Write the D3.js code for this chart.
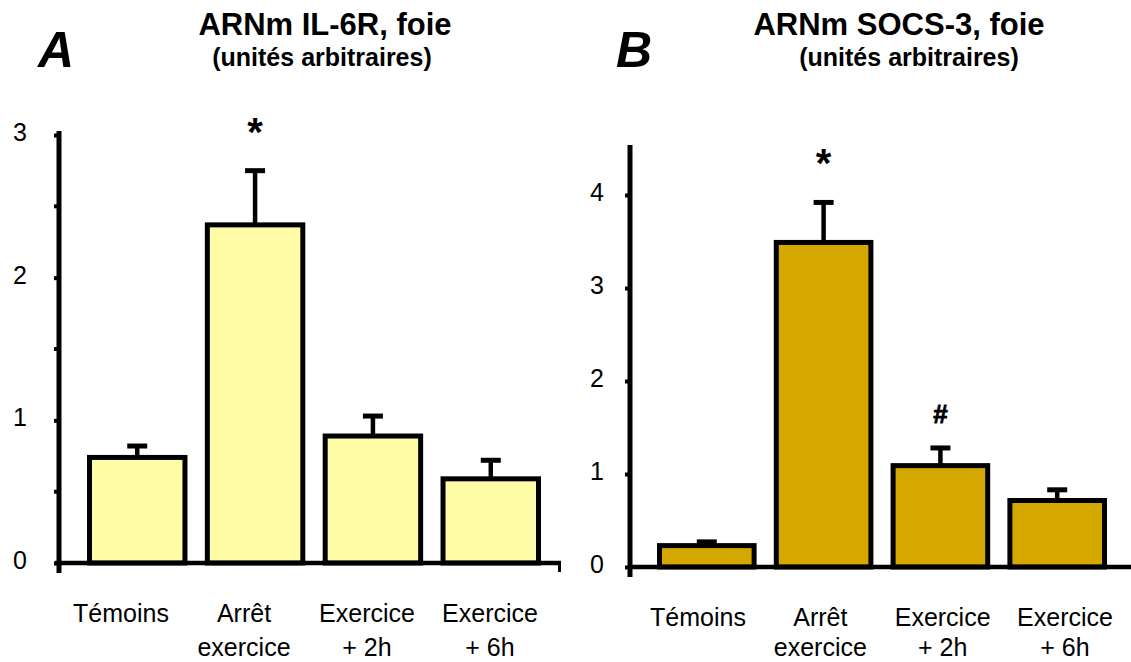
<!DOCTYPE html>
<html><head><meta charset="utf-8">
<script src="https://cdn.jsdelivr.net/npm/d3@7"></script>
<style>
html,body{margin:0;padding:0;background:#fff;}
svg{display:block;font-family:"Liberation Sans",Arial,sans-serif;}
</style></head>
<body><svg id="chart" width="1131" height="662"></svg>
<script>
// ---- data ----
const categories = ["Témoins", "Arrêt exercice", "Exercice + 2h", "Exercice + 6h"];
const categoryLines = [["Témoins"], ["Arrêt", "exercice"], ["Exercice", "+ 2h"], ["Exercice", "+ 6h"]];
const il6rValues = [0.74, 2.37, 0.89, 0.59];
const il6rErrors = [0.08, 0.38, 0.14, 0.13];
const il6rMarks = ["", "*", "", ""];
const il6rTicks = [0, 1, 2, 3];
const il6rMinorTicks = [0.5, 1.5, 2.5];
const socs3Values = [0.23, 3.49, 1.09, 0.715];
const socs3Errors = [0.04, 0.43, 0.19, 0.115];
const socs3Marks = ["", "*", "#", ""];
const socs3Ticks = [0, 1, 2, 3, 4];
const socs3MinorTicks = [];

const svg = d3.select("#chart");

function panel(cfg) {
  const g = svg.append("g");
  const y = d3.scaleLinear().domain(cfg.domain).range([cfg.y0, cfg.yTop]);
  const x = d3.scaleBand().domain(categories).range(cfg.barRange).paddingInner(0.19).paddingOuter(0);
  const xl = d3.scalePoint().domain(categories).range(cfg.labelRange);
  const data = categories.map((c, i) => ({c, v: cfg.values[i], e: cfg.errors[i], m: cfg.marks[i]}));

  // error bars (behind bars)
  g.selectAll(".stem").data(data).enter().append("line")
    .attr("x1", d => x(d.c) + x.bandwidth() / 2).attr("x2", d => x(d.c) + x.bandwidth() / 2)
    .attr("y1", d => y(d.v)).attr("y2", d => y(d.v + d.e))
    .attr("stroke", "#000").attr("stroke-width", 4.5);
  g.selectAll(".cap").data(data).enter().append("line")
    .attr("x1", d => x(d.c) + x.bandwidth() / 2 - 10).attr("x2", d => x(d.c) + x.bandwidth() / 2 + 10)
    .attr("y1", d => y(d.v + d.e)).attr("y2", d => y(d.v + d.e))
    .attr("stroke", "#000").attr("stroke-width", 5);

  // bars
  g.selectAll(".bar").data(data).enter().append("rect")
    .attr("x", d => x(d.c)).attr("width", x.bandwidth())
    .attr("y", d => y(d.v)).attr("height", d => y(0) - y(d.v))
    .attr("fill", cfg.color).attr("stroke", "#000").attr("stroke-width", 5);

  // significance marks
  g.selectAll(".mark").data(data.filter(d => d.m)).enter().append("text")
    .attr("x", d => x(d.c) + x.bandwidth() / 2)
    .attr("y", d => y(d.v + d.e) - (d.m === "*" ? 25 : 25))
    .attr("text-anchor", "middle").attr("font-weight", "bold")
    .attr("font-size", d => d.m === "*" ? 40 : 26)
    .attr("stroke", "#000").attr("stroke-width", d => d.m === "#" ? 0.8 : 0)
    .text(d => d.m);

  // x axis line
  g.append("line").attr("x1", cfg.xAxisStart).attr("x2", cfg.xAxisEnd)
    .attr("y1", y(0)).attr("y2", y(0)).attr("stroke", "#000").attr("stroke-width", 4.5);
  if (cfg.endTick) {
    g.append("line").attr("x1", cfg.xAxisEnd - 1.5).attr("x2", cfg.xAxisEnd - 1.5)
      .attr("y1", y(0)).attr("y2", y(0) + 9).attr("stroke", "#000").attr("stroke-width", 3);
  }

  // y axis
  const yAxis = d3.axisLeft(y).tickValues(cfg.ticks).tickSize(5).tickFormat(d3.format("d"));
  const ya = g.append("g").attr("transform", `translate(${cfg.axisX},0)`).call(yAxis);
  ya.select(".domain").remove();
  ya.selectAll(".tick line").attr("stroke", "#000").attr("stroke-width", 4);
  ya.selectAll(".tick text").attr("x", cfg.labelX - cfg.axisX).attr("dy", "0.22em")
    .attr("font-size", 25).attr("font-family", "Liberation Sans, Arial, sans-serif").attr("fill", "#000");
  g.selectAll(".minor").data(cfg.minor).enter().append("line")
    .attr("x1", cfg.axisX - 5).attr("x2", cfg.axisX).attr("y1", d => y(d)).attr("y2", d => y(d))
    .attr("stroke", "#000").attr("stroke-width", 4);
  g.append("line").attr("x1", cfg.axisX).attr("x2", cfg.axisX)
    .attr("y1", y(0) + 10).attr("y2", cfg.axisTop).attr("stroke", "#000").attr("stroke-width", 5);

  // category labels
  const lab = g.selectAll(".cat").data(categories).enter().append("text")
    .attr("x", d => xl(d)).attr("y", cfg.labelY).attr("text-anchor", "middle")
    .attr("font-size", 25).attr("fill", "#000");
  lab.each(function (d, i) {
    const t = d3.select(this);
    categoryLines[i].forEach((ln, j) => {
      t.append("tspan").attr("x", xl(d)).attr("dy", j === 0 ? 0 : cfg.lineGap).text(ln);
    });
  });

  // titles
  svg.append("text").attr("x", cfg.titleX).attr("y", 35).attr("text-anchor", "middle")
    .attr("font-weight", "bold").attr("font-size", 31).text(cfg.title);
  svg.append("text").attr("x", cfg.subX).attr("y", 66).attr("text-anchor", "middle")
    .attr("font-weight", "bold").attr("font-size", 25).text("(unités arbitraires)");
  svg.append("text").attr("x", cfg.letterX).attr("y", 67).attr("font-weight", "bold")
    .attr("font-style", "italic").attr("font-size", 50).text(cfg.letter);
}

panel({
  domain: [0, 3], y0: 563, yTop: 135, axisTop: 131, axisX: 59, labelX: 27,
  barRange: [89.5, 538.5], labelRange: [121, 490], labelY: 622, lineGap: 34,
  xAxisStart: 55, xAxisEnd: 561, endTick: true,
  values: il6rValues, errors: il6rErrors, marks: il6rMarks,
  ticks: il6rTicks, minor: il6rMinorTicks, color: "#FFFCA8",
  title: "ARNm IL-6R, foie", titleX: 325, subX: 322, letter: "A", letterX: 38
});
panel({
  domain: [0, 4.5], y0: 567, yTop: 148.5, axisTop: 145, axisX: 630, labelX: 604,
  barRange: [659.5, 1104.5], labelRange: [698, 1065], labelY: 626, lineGap: 30,
  xAxisStart: 630, xAxisEnd: 1131, endTick: false,
  values: socs3Values, errors: socs3Errors, marks: socs3Marks,
  ticks: socs3Ticks, minor: socs3MinorTicks, color: "#D5A800",
  title: "ARNm SOCS-3, foie", titleX: 899, subX: 909, letter: "B", letterX: 616
});
</script></body></html>
